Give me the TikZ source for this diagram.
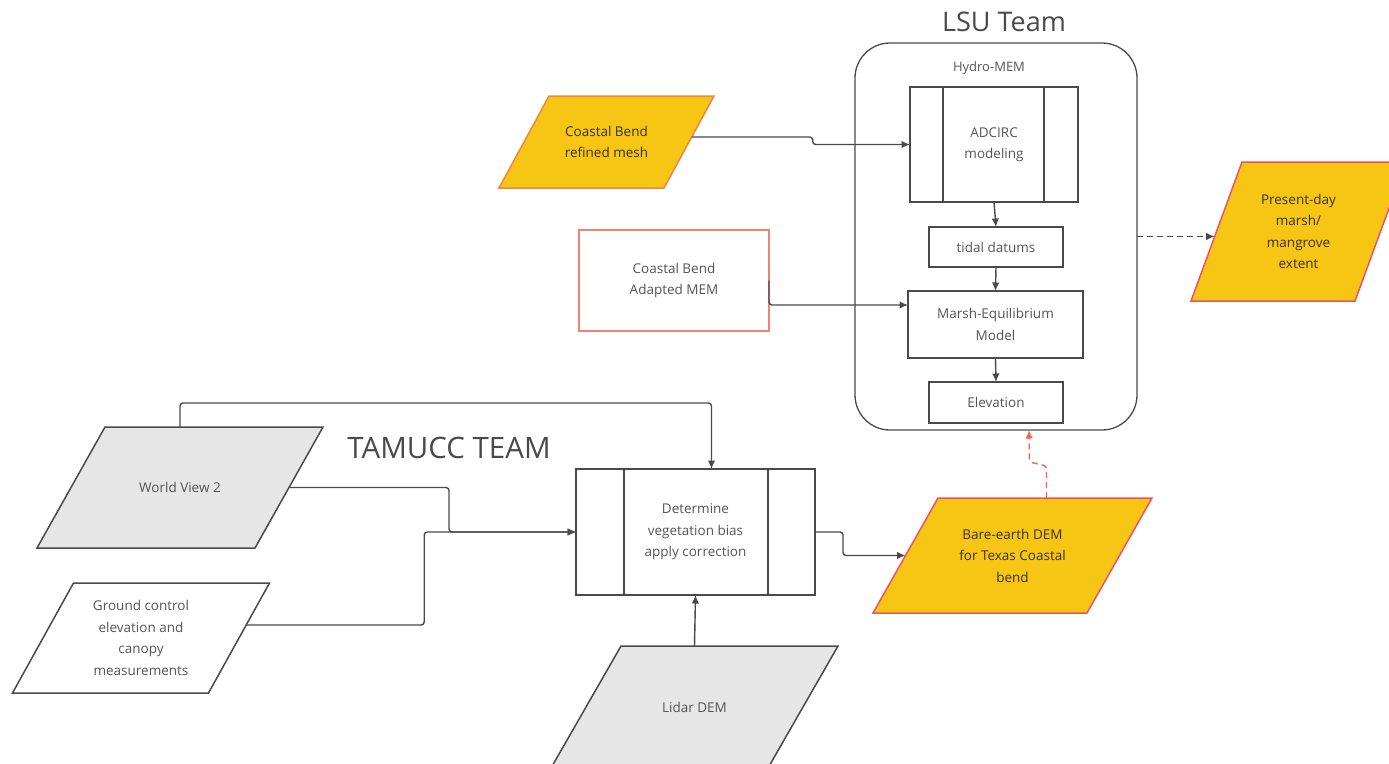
\documentclass[tikz,border=0pt]{standalone}
\usepackage{fontspec}
\setmainfont{Open Sans}
\usepackage{tikz}
\usetikzlibrary{arrows.meta,positioning,backgrounds}
\usepackage{xcolor}
\definecolor{gold}{HTML}{F7C513}
\definecolor{goldline}{HTML}{EC5466}
\definecolor{meshline}{HTML}{F2853F}
\definecolor{salmon}{HTML}{F08272}
\definecolor{lightgray}{HTML}{E6E6E6}
\definecolor{linegray}{HTML}{4A4A4A}
\definecolor{txtgray}{HTML}{555555}
\definecolor{goldtxt}{HTML}{3B3214}
\definecolor{reddash}{HTML}{F2674F}

\begin{document}
\begin{tikzpicture}[x=1pt,y=-1pt,
 every node/.style={font=\fontsize{13.5}{21.5}\selectfont,text=txtgray,align=center},
 title/.style={font=\fontsize{27}{30}\selectfont,text=linegray},
 box/.style={draw=linegray,fill=white,line width=1.5pt,inner sep=0pt,outer sep=0pt},
 databox/.style={inner sep=0pt,outer sep=0pt},
 paraline/.style={draw=linegray,line width=1.5pt,line join=miter},
 arr/.style={-{Latex[length=8.5pt,width=7.5pt]},draw=linegray,line width=1.4pt,rounded corners=3pt},
 dasharr/.style={arr,dash pattern=on 6pt off 4pt},
 redarr/.style={arr,draw=reddash,dash pattern=on 6pt off 4pt}
]
\path[use as bounding box] (0,0) rectangle (1389,763);
\clip (0,0) rectangle (1389,763);

% LSU side
\node[title] (lsutitle) at (1004,22) {LSU Team};
\node[box,rounded corners=35pt,fill=none,line width=1.3pt,minimum width=282pt,minimum height=387pt] (lsu) at (996,236.5) {};
\node[font=\fontsize{13}{15}\selectfont] (hydro) at (989,68) {Hydro-MEM};
\node[box,minimum width=168pt,minimum height=115pt] (adc) at (994,144.5) {ADCIRC\\modeling};
\draw[box] ([xshift=33pt]adc.north west) -- ([xshift=33pt]adc.south west);
\draw[box] ([xshift=-34pt]adc.north east) -- ([xshift=-34pt]adc.south east);
\node[box,minimum width=134pt,minimum height=40pt] (tidal) at (996,247) {tidal datums};
\node[box,minimum width=175pt,minimum height=67pt] (mem) at (995.5,324.5) {Marsh-Equilibrium\\Model};
\node[box,minimum width=134pt,minimum height=41pt] (elev) at (996,402.5) {Elevation};

\node[databox,text=goldtxt,minimum width=165pt,minimum height=92pt] (mesh) at (606.5,142) {Coastal Bend\\refined mesh};
\node[box,draw=salmon,minimum width=190pt,minimum height=101pt] (cbmem) at (674,280.5) {Coastal Bend\\Adapted MEM};
\node[databox,text=goldtxt,minimum width=164pt,minimum height=139pt] (pres) at (1298.5,231.5) {Present-day\\marsh/\\mangrove\\extent};

\draw[arr] ([xshift=2.7pt,yshift=5pt]mesh.east) -- ++(121,0) |- (adc.west);
\draw[arr] (adc.south) -- (tidal.north);
\draw[arr] (tidal.south) -- (mem.north);
\draw[arr] (mem.south) -- (elev.north);
\draw[arr] (cbmem.east) |- ([yshift=-14pt]mem.north west);
\draw[dasharr] (lsu.east) -- ([xshift=-1.8pt,yshift=-5pt]pres.west);

% TAMUCC side
\node[title,font=\fontsize{29.5}{32}\selectfont] (tamtitle) at (449,448) {TAMUCC TEAM};
\node[databox,minimum width=218pt,minimum height=121pt] (wv2) at (180,487.5) {World View 2};
\node[databox,minimum width=196pt,minimum height=110pt] (gc) at (141,638) {Ground control\\elevation and\\canopy\\measurements};
\node[box,minimum width=239pt,minimum height=126pt] (det) at (695.5,532) {Determine\\vegetation bias\\apply correction};
\draw[box] ([xshift=48pt]det.north west) -- ([xshift=48pt]det.south west);
\draw[box] ([xshift=-47pt]det.north east) -- ([xshift=-47pt]det.south east);
\node[databox,minimum width=217pt,minimum height=122pt] (lidar) at (694.5,707) {Lidar DEM};
\node[databox,text=goldtxt,minimum width=214pt,minimum height=115pt] (bare) at (1012.5,555.5) {Bare-earth DEM\\for Texas Coastal\\bend};

\draw[arr] (wv2.north) -- ++(0,-24) -| ([xshift=16pt]det.north);
\draw[arr] (wv2.east) -- ++(160,0) |- (det.west);
\draw[arr] ([xshift=7.2pt,yshift=13pt]gc.east) -- ++(178,0) |- (det.west);
\draw[arr] (lidar.north) -- (det.south);
\draw[arr] (det.east) -- ++(28,0) |- (bare.west);
\draw[redarr] ([xshift=34pt]bare.north) -- ++(0,-32) -- ++(-17,-4) -- ([xshift=33pt]lsu.south);

% parallelogram outlines
\begin{scope}[on background layer]
\draw[paraline,fill=gold,draw=meshline] ([xshift=-25pt]mesh.south west) -- ([xshift=-25pt]mesh.south east) -- ([xshift=25pt]mesh.north east) -- ([xshift=25pt]mesh.north west) -- cycle;
\draw[paraline,fill=gold,draw=goldline] ([xshift=-25.5pt]pres.south west) -- ([xshift=-25.5pt]pres.south east) -- ([xshift=25.5pt]pres.north east) -- ([xshift=25.5pt]pres.north west) -- cycle;
\draw[paraline,fill=lightgray] ([xshift=-34pt]wv2.south west) -- ([xshift=-34pt]wv2.south east) -- ([xshift=34pt]wv2.north east) -- ([xshift=34pt]wv2.north west) -- cycle;
\draw[paraline,fill=white] ([xshift=-30.5pt]gc.south west) -- ([xshift=-30.5pt]gc.south east) -- ([xshift=30.5pt]gc.north east) -- ([xshift=30.5pt]gc.north west) -- cycle;
\draw[paraline,fill=lightgray] ([xshift=-35pt]lidar.south west) -- ([xshift=-35pt]lidar.south east) -- ([xshift=35pt]lidar.north east) -- ([xshift=35pt]lidar.north west) -- cycle;
\draw[paraline,fill=gold,draw=goldline] ([xshift=-32.5pt]bare.south west) -- ([xshift=-32.5pt]bare.south east) -- ([xshift=32.5pt]bare.north east) -- ([xshift=32.5pt]bare.north west) -- cycle;
\end{scope}
\end{tikzpicture}
\end{document}
